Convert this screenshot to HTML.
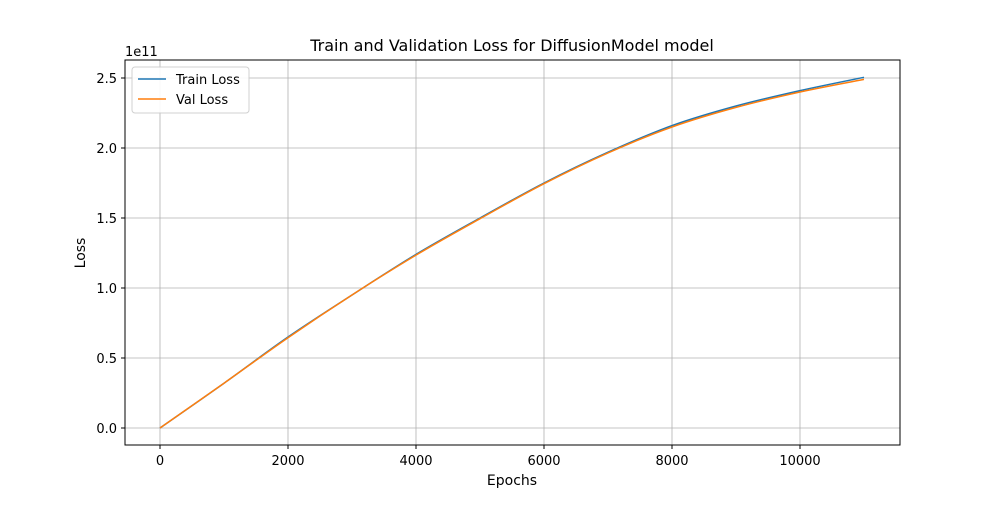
<!DOCTYPE html>
<html><head><meta charset="utf-8"><style>
body{margin:0;background:#fff;font-family:"Liberation Sans","DejaVu Sans",sans-serif}
svg text{font-family:"DejaVu Sans","Liberation Sans",sans-serif;fill:#000}
</style></head><body>
<svg id="chart" width="1000" height="500">
<rect x="0" y="0" width="1000" height="500" fill="#fff"/>
<g id="grid"></g>
<g id="lines"></g>
<rect x="125" y="60" width="775" height="385" fill="none" stroke="#000" stroke-width="1"/>
<g id="ticks"></g>
<text x="512" y="51" font-size="16" text-anchor="middle">Train and Validation Loss for DiffusionModel model</text>
<text x="512" y="485" font-size="14" text-anchor="middle">Epochs</text>
<text x="85" y="253" font-size="14" text-anchor="middle" transform="rotate(-90 85 253)">Loss</text>
<text x="125" y="56" font-size="13">1e11</text>
<g>
<rect x="132" y="67" width="117" height="46" rx="3" fill="#fff" stroke="#ccc" opacity="0.9"/>
<line x1="138" y1="79" x2="166" y2="79" stroke="#1f77b4" stroke-width="1.5"/>
<text x="176" y="84" font-size="13">Train Loss</text>
<line x1="138" y1="99" x2="166" y2="99" stroke="#ff7f0e" stroke-width="1.5"/>
<text x="176" y="104" font-size="13">Val Loss</text>
</g>
</svg>
<script>
const epochs=[0,1000,2000,3000,4000,5000,6000,7000,8000,9000,10000,11000];
const trainLoss=[0,0.32,0.65,0.95,1.24,1.50,1.75,1.97,2.16,2.30,2.41,2.505];
const valLoss=[0,0.32,0.645,0.95,1.235,1.495,1.745,1.965,2.15,2.29,2.40,2.49];
const xTicks=[0,2000,4000,6000,8000,10000];
const yTicks=[0,0.5,1.0,1.5,2.0,2.5];
const X=v=>160+v*0.064;
const Y=v=>428-v*140;
const ns="http://www.w3.org/2000/svg";
const g=document.getElementById('grid'),t=document.getElementById('ticks'),L=document.getElementById('lines');
function mk(tag,a,p){const e=document.createElementNS(ns,tag);for(const k in a)e.setAttribute(k,a[k]);p.appendChild(e);return e;}
xTicks.forEach(v=>{
const l=mk('line',{x1:X(v),x2:X(v),y1:60,y2:445,stroke:'#b0b0b0','stroke-width':0.8},g);


mk('line',{x1:X(v),x2:X(v),y1:445,y2:449,stroke:'#000'},t);
const s=mk('text',{x:X(v),y:465,'font-size':13,'text-anchor':'middle'},t);s.textContent=v;


});
yTicks.forEach(v=>{
const l=mk('line',{x1:125,x2:900,y1:Y(v),y2:Y(v),stroke:'#b0b0b0','stroke-width':0.8},g);


mk('line',{x1:121,x2:125,y1:Y(v),y2:Y(v),stroke:'#000'},t);
const s=mk('text',{x:117,y:Y(v)+5,'font-size':13,'text-anchor':'end'},t);s.textContent=v.toFixed(1);


});
function path(vals,color,name){
const P=vals.map((v,i)=>[X(epochs[i]),Y(v)]);
let d='M'+P[0][0]+' '+P[0][1];
for(let i=0;i<P.length-1;i++){
const p0=P[Math.max(0,i-1)],p1=P[i],p2=P[i+1],p3=P[Math.min(P.length-1,i+2)];
const c1=[p1[0]+(p2[0]-p0[0])/6,p1[1]+(p2[1]-p0[1])/6];
const c2=[p2[0]-(p3[0]-p1[0])/6,p2[1]-(p3[1]-p1[1])/6];
d+=' C'+c1[0]+' '+c1[1]+' '+c2[0]+' '+c2[1]+' '+p2[0]+' '+p2[1];
}
const p=mk('path',{d:d,fill:'none',stroke:color,'stroke-width':1.5},L);


}
path(trainLoss,'#1f77b4','train-loss-line');
path(valLoss,'#ff7f0e','val-loss-line');
</script>
</body></html>
